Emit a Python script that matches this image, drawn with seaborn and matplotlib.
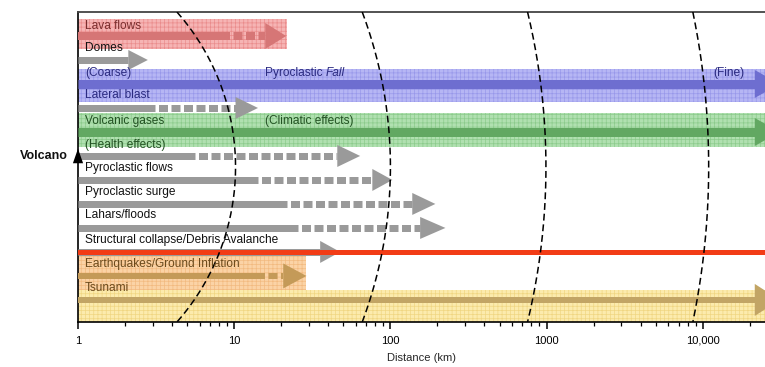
import numpy as np
import pandas as pd
import matplotlib
matplotlib.use("Agg")
import matplotlib.pyplot as plt
from matplotlib.patches import Polygon, Rectangle
from matplotlib.ticker import FixedLocator, FixedFormatter, LogLocator, NullFormatter
import seaborn as sns

# ---------------- data ----------------
row_labels = ["Lava flows", "Domes", "(Coarse)", "Lateral blast", "Volcanic gases",
              "(Health effects)", "Pyroclastic flows", "Pyroclastic surge", "Lahars/floods",
              "Structural collapse/Debris Avalanche", "Earthquakes/Ground Inflation", "Tsunami"]
# distance (km) where solid part ends, where arrow head begins, and arrow tip
solid_end_km = [9.4, 2.1, 21500, 3.1, 21500, 5.6, 14.2, 21.9, 25.7, 35.5, 15.8, 21500]
head_base_km = [15.8, 2.1, 21500, 10.2, 21500, 45.7, 76.6, 138, 155, 35.5, 20.6, 21500]
tip_km = [21.5, 2.8, 31000, 14.2, 31000, 64, 103, 194, 225, 47.7, 29, 31000]

band_names = ["Lava flows", "Pyroclastic fall", "Volcanic gases", "Earthquakes", "Tsunami"]
band_end_km = [21.9, 100000, 100000, 29, 100000]

extra_text = ["Pyroclastic ", "(Climatic effects)", "(Fine)"]
extra_km = [15.8, 15.8, 11600]

curve_end_km = [4.3, 66, 755, 8630]
curve_mid_km = [10.2, 100, 990, 10900]

tick_values = [1, 10, 100, 1000, 10000]
tick_labels = ["1", "10", "100", "1000", "10,000"]

# ---------------- style ----------------
sns.set_theme(style="white")
plt.rcParams["font.family"] = ["Liberation Sans", "DejaVu Sans"]
plt.rcParams["hatch.linewidth"] = 0.5

W, H = 765, 367
fig = plt.figure(figsize=(W / 100, H / 100), dpi=100)
ax = fig.add_axes([78 / W, 45 / H, 687 / W, 310 / H])
ax.set_xscale("log")
ax.set_xlim(1, 25000)
ax.set_ylim(11.92, -1)
ROW_PX = 24.0
DEC_PX = 687 / np.log10(25000)

# bands: (top row, bottom row, face, hatch colour)
band_layout = [(-0.71, 0.54, "#f6b4b4", "#ea8c8c"),
               (1.375, 2.75, "#b6b6f4", "#9898ea"),
               (3.2, 4.62, "#b0e0b0", "#8ccb8c"),
               (9.08, 10.58, "#fbd3a6", "#f2ba80"),
               (10.58, 11.95, "#fcebad", "#f0d682")]
for (top, bot, fc, hc), xe in zip(band_layout, band_end_km):
    ax.add_patch(Rectangle((1, top), xe - 1, bot - top, facecolor=fc, edgecolor=hc,
                           hatch="++++", lw=0, zorder=1))

# arrow styles per row: colour, shaft px, head px
gray = "#9a9a9a"
arrow_style = [("#d67676", 8, 26), (gray, 7, 20), ("#6e6ed0", 9, 28), (gray, 7, 22),
               ("#62a862", 9, 28), (gray, 7, 22), (gray, 7, 22), (gray, 7, 22),
               (gray, 7, 22), (gray, 7, 22), ("#c49a58", 6, 25), ("#c2a565", 6, 32)]

PT = 0.72  # points per pixel
for i, (se, hb, tp) in enumerate(zip(solid_end_km, head_base_km, tip_km)):
    col, sw, hp = arrow_style[i]
    lw = sw * PT
    ax.plot([1, se], [i, i], color=col, lw=lw, solid_capstyle="butt", zorder=3)
    if hb > se:
        on, off = 9 * PT / lw, 3.5 * PT / lw
        ax.plot([se, hb], [i, i], color=col, lw=lw, dash_capstyle="butt",
                linestyle=(on, (on, off)), zorder=3)
    hh = hp / 2 / ROW_PX
    ax.add_patch(Polygon([[hb, i - hh], [tp, i], [hb, i + hh]], closed=True,
                         facecolor=col, edgecolor="none", zorder=3))

# red line
ax.axhline(9, color="#f23c16", lw=5 * PT, zorder=4)

# dashed distance arcs
yc = (11.92 + -1) / 2
hpx = (11.92 + 1) / 2 * ROW_PX
ys = np.linspace(-1, 11.92, 200)
for ce, cm in zip(curve_end_km, curve_mid_km):
    b = (np.log10(cm) - np.log10(ce)) * DEC_PX
    R = (hpx ** 2 + b ** 2) / (2 * b)
    dy = (ys - yc) * ROW_PX
    xpx = np.log10(cm) * DEC_PX - R + np.sqrt(R ** 2 - dy ** 2)
    df = pd.DataFrame({"x": 10 ** (xpx / DEC_PX), "y": ys})
    sns.lineplot(data=df, x="x", y="y", sort=False, estimator=None, errorbar=None,
                 ax=ax, color="black", lw=1.1, linestyle=(0, (4.5, 2.5)), zorder=5)

# labels
FS = 8.6
text_cols = ["#7a2e2e", "#111111", "#2b2b80", "#2b2b80", "#235223", "#235223",
             "#111111", "#111111", "#111111", "#111111", "#6b4a1c", "#6b4a1c"]
lab_off = [-0.42, -0.5, -0.46, -0.54, -0.46, -0.46, -0.5, -0.5, -0.54, -0.5, -0.5, -0.5]
for i, lab in enumerate(row_labels):
    ax.text(1.11, i + lab_off[i], lab, va="center", ha="left", fontsize=FS,
            color=text_cols[i], zorder=6)
t1 = ax.text(extra_km[0], 2 - 0.46, extra_text[0], va="center", ha="left", fontsize=FS,
             color="#2b2b80", zorder=6)
ax.annotate("Fall", xy=(1, 0.5), xycoords=t1, va="center", ha="left", fontsize=FS,
            style="italic", color="#2b2b80", zorder=6)
ax.text(extra_km[1], 4 - 0.46, extra_text[1], va="center", ha="left", fontsize=FS,
        color="#235223", zorder=6)
ax.text(extra_km[2], 2 - 0.46, extra_text[2], va="center", ha="left", fontsize=FS,
        color="#2b2b80", zorder=6)

# volcano marker
sns.scatterplot(x=[1], y=[5], marker=[(0, 1), (-0.7, -1), (0.7, -1)], s=110,
                color="black", edgecolor="none", clip_on=False, ax=ax, zorder=7, legend=False)
ax.annotate("Volcano", xy=(1, 5), xytext=(-7.5, 0), textcoords="offset points",
            ha="right", va="center", fontsize=9, fontweight="bold", color="#111111",
            annotation_clip=False)

# axes
ax.xaxis.set_major_locator(FixedLocator(tick_values))
ax.xaxis.set_major_formatter(FixedFormatter(tick_labels))
ax.xaxis.set_minor_locator(LogLocator(base=10, subs=np.arange(2, 10)))
ax.xaxis.set_minor_formatter(NullFormatter())
ax.tick_params(axis="x", which="major", direction="out", length=5, width=1.1,
               labelsize=8, pad=5, colors="black", bottom=True)
ax.tick_params(axis="x", which="minor", direction="out", length=3, width=0.9,
               bottom=True, colors="black")
ax.set_yticks([])
ax.set_xlabel("Distance (km)", fontsize=8, labelpad=5)
ax.set_ylabel("")
for s in ["left", "bottom"]:
    ax.spines[s].set_color("black")
    ax.spines[s].set_linewidth(1.2)
ax.spines["top"].set_color("#444444")
ax.spines["top"].set_linewidth(1.3)
ax.spines["right"].set_visible(False)
ax.set_facecolor("white")
fig.savefig("out.png", dpi=100)
